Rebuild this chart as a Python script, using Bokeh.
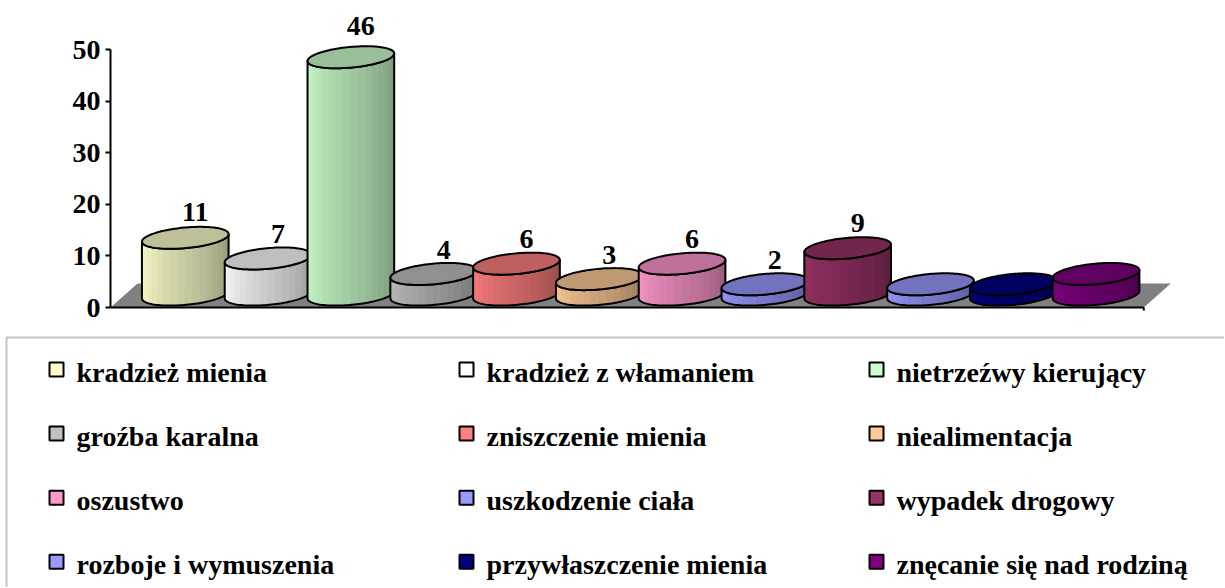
import numpy as np
from bokeh.plotting import figure
from bokeh.models import ColumnDataSource, Range1d, FixedTicker
from bokeh.embed import file_html
from bokeh.resources import INLINE
from bokeh.core.properties import value

# ---------------- data ----------------
categories = ["kradzież mienia", "kradzież z włamaniem", "nietrzeźwy kierujący",
              "groźba karalna", "zniszczenie mienia", "niealimentacja",
              "oszustwo", "uszkodzenie ciała", "wypadek drogowy",
              "rozboje i wymuszenia", "przywłaszczenie mienia", "znęcanie się nad rodziną"]
counts = [11, 7, 46, 4, 6, 3, 6, 2, 9, 2, 2, 4]
show_label = [True, True, True, True, True, True, True, True, True, False, False, False]
colors = ["#FFFFCC", "#FFFFFF", "#CCFFCC", "#C0C0C0", "#FF8080", "#FFCC99",
          "#FF99CC", "#9999FF", "#993366", "#9999FF", "#000080", "#800080"]
y_ticks = [0, 10, 20, 30, 40, 50]

FONT = "Liberation Serif"

# ---------------- 3D styling constants ----------------
PX_X, PX_Y = 82.8, 5.16          # pixels per data unit (matches ranges below)
A_PX, B_PX, TILT = 43.5, 10.3, np.radians(5.3)
BASE_Y = 2.5                     # mid-depth base of cylinders
DX_MID = 0.163                   # mid-depth shift to the right
FLOOR_PAD = 0.74
FLOOR_DEPTH_Y = 4.65
N_STRIPS = 18

s_, c_ = np.sin(TILT), np.cos(TILT)
EA = s_ * s_ / A_PX ** 2 + c_ * c_ / B_PX ** 2
EK = 2 * s_ * c_ * (1 / A_PX ** 2 - 1 / B_PX ** 2)
EC = c_ * c_ / A_PX ** 2 + s_ * s_ / B_PX ** 2
XM = np.sqrt(EA / (EA * EC - (EK / 2) ** 2)) * 0.99999


def arc(xpx, sign):
    disc = np.clip(EK ** 2 * xpx ** 2 - 4 * EA * (EC * xpx ** 2 - 1), 0, None)
    return (-EK * xpx + sign * np.sqrt(disc)) / (2 * EA)


def shade(hx, f):
    r, g, b = int(hx[1:3], 16), int(hx[3:5], 16), int(hx[5:7], 16)
    return "#%02x%02x%02x" % (int(r * f), int(g * f), int(b * f))


xs, ys, fc, fa, lc, la, lw = [], [], [], [], [], [], []
t = np.linspace(0, np.pi, 60)
x_full = -XM * np.cos(t)
for i, (v, col) in enumerate(zip(counts, colors)):
    cx = float(i)
    y_top = BASE_Y + v
    xb = -XM * np.cos(np.linspace(0, np.pi, N_STRIPS + 1))
    for k in range(N_STRIPS):
        xk = np.linspace(xb[k], xb[k + 1], 6)
        top = y_top + arc(xk, -1) / PX_Y
        bot = BASE_Y + arc(xk[::-1], -1) / PX_Y
        xs.append(list(cx + np.concatenate([xk, xk[::-1]]) / PX_X))
        ys.append(list(np.concatenate([top, bot])))
        f = 1.0 - 0.42 * (k + 0.5) / N_STRIPS
        sc = shade(col, f)
        fc.append(sc); fa.append(1.0); lc.append(sc); la.append(1.0); lw.append(1.0)
    xs.append(list(cx + np.concatenate([x_full, x_full[::-1]]) / PX_X))
    ys.append(list(np.concatenate([y_top + arc(x_full, -1) / PX_Y,
                                   BASE_Y + arc(x_full[::-1], -1) / PX_Y])))
    fc.append(col); fa.append(0.0); lc.append("black"); la.append(1.0); lw.append(2.0)
    xs.append(list(cx + np.concatenate([x_full, x_full[::-1]]) / PX_X))
    ys.append(list(np.concatenate([y_top + arc(x_full, -1) / PX_Y,
                                   y_top + arc(x_full[::-1], 1) / PX_Y])))
    fc.append(shade(col, 0.75)); fa.append(1.0); lc.append("black"); la.append(1.0); lw.append(2.0)

cyl_src = ColumnDataSource(dict(xs=xs, ys=ys, fc=fc, fa=fa, lc=lc, la=la, lw=lw))

n = len(counts)
x_front_l = -DX_MID - FLOOR_PAD
x_front_r = (n - 1) - DX_MID + FLOOR_PAD

W = 1224
H1 = 332
FRAME_H = 310
FRAME_W = 1090

# ---------------- chart figure ----------------
p = figure(width=W, height=H1,
           x_range=Range1d(x_front_l, x_front_l + FRAME_W / PX_X),
           y_range=Range1d(-0.58, -0.58 + FRAME_H / PX_Y),
           x_axis_location=None, y_axis_location="left",
           min_border_left=110, min_border_right=W - 110 - FRAME_W,
           min_border_top=0, min_border_bottom=H1 - FRAME_H,
           toolbar_location=None, output_backend="svg", outline_line_color=None)
p.xgrid.visible = False
p.ygrid.visible = False

p.patch([x_front_l, x_front_l + 2 * DX_MID, x_front_r + 2 * DX_MID, x_front_r],
        [0, FLOOR_DEPTH_Y, FLOOR_DEPTH_Y, 0], fill_color="#808080", line_color=None)
p.line([x_front_l, x_front_r], [0, 0], line_color="black", line_width=2)
p.segment(x0=[x_front_r], y0=[0], x1=[x_front_r], y1=[-0.9], line_color="black", line_width=2)

p.patches("xs", "ys", source=cyl_src, fill_color="fc", fill_alpha="fa",
          line_color="lc", line_alpha="la", line_width="lw", line_join="round")

lab_idx = [i for i in range(n) if show_label[i]]
lab_src = ColumnDataSource(dict(
    x=[float(i) for i in lab_idx],
    y=[counts[i] * 1.03 + 7.1 for i in lab_idx],
    t=[str(counts[i]) for i in lab_idx]))
p.text("x", "y", text="t", source=lab_src, text_font=value(FONT), text_font_style="bold",
       text_font_size="28px", text_align="center", text_baseline="alphabetic",
       text_color="black", x_offset=10)

ax = p.yaxis[0]
ax.bounds = (0, 50)
ax.ticker = FixedTicker(ticks=y_ticks)
ax.major_label_text_font = FONT
ax.major_label_text_font_style = "bold"
ax.major_label_text_font_size = "28px"
ax.major_label_text_color = "black"
ax.axis_line_width = 2
ax.axis_line_color = "black"
ax.major_tick_line_width = 2
ax.major_tick_line_color = "black"
ax.major_tick_out = 5
ax.major_tick_in = 0
ax.minor_tick_out = 0
ax.minor_tick_in = 0
ax.major_label_standoff = 5

# ---------------- legend figure ----------------
LH = 255
q = figure(width=W, height=LH, x_range=Range1d(0, W), y_range=Range1d(LH, 0),
           x_axis_location=None, y_axis_location=None, min_border=0,
           toolbar_location=None, output_backend="svg", outline_line_color=None)
q.xgrid.visible = False
q.ygrid.visible = False
q.quad(left=[6], right=[1400], top=[5], bottom=[400], fill_color=None,
       line_color="#C4C4C4", line_width=2)

cols = [i % 3 for i in range(n)]
rows = [i // 3 for i in range(n)]
sq_left = [48 + 410 * c for c in cols]
row_y = [37 + 64.07 * r for r in rows]
leg_src = ColumnDataSource(dict(
    sx=[l + 8 for l in sq_left], sy=row_y,
    tx=[l + 28 for l in sq_left], ty=[y + 2.7 for y in row_y],
    name=categories, color=colors))
q.rect("sx", "sy", width=14, height=14, source=leg_src, fill_color="color",
       line_color="black", line_width=2)
q.text("tx", "ty", text="name", source=leg_src, text_font=value(FONT),
       text_font_style="bold", text_font_size="28px", text_align="left",
       text_baseline="alphabetic", text_color="black")

open("out.html", "w").write(file_html([p, q], INLINE))
